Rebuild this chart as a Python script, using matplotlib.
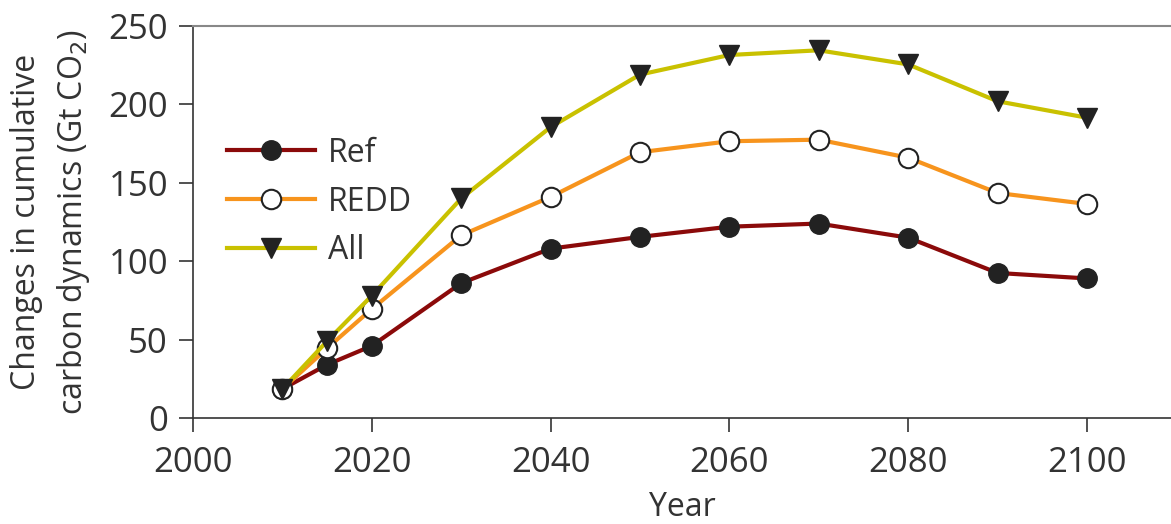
import matplotlib.pyplot as plt

plt.rcParams["font.family"] = ["Open Sans", "DejaVu Sans"]

years = [2010, 2015, 2020, 2030, 2040, 2050, 2060, 2070, 2080, 2090, 2100]
ref = [18.5, 34, 46, 86, 108, 115.5, 122, 124, 115, 92.5, 89]
redd = [18.5, 44.5, 69.5, 116.5, 141, 169.5, 176.5, 177.5, 166, 143.5, 136.5]
all_ = [18.5, 49, 78, 140, 185.5, 219, 231.5, 234.5, 225.5, 202, 191.5]

text_col = "#333333"

fig = plt.figure(figsize=(11.71, 5.24), dpi=100)
ax = fig.add_axes([0.1648, 0.2023, 0.8352, 0.7481])

ax.plot(years, ref, color="#8b0a0a", lw=3, marker="o", ms=14,
        mfc="#222222", mec="#222222", label="Ref", zorder=3)
ax.plot(years, redd, color="#f7941d", lw=3, marker="o", ms=14,
        mfc="white", mec="#222222", mew=1.5, label="REDD", zorder=3)
ax.plot(years, all_, color="#c9c100", lw=3, marker="v", ms=15,
        mfc="#222222", mec="#222222", label="All", zorder=3)

ax.set_xlim(2000, 2109.4)
ax.set_ylim(0, 250)
ax.set_xticks(range(2000, 2101, 20))
ax.set_yticks(range(0, 251, 50))

ax.spines["right"].set_visible(False)
ax.spines["top"].set_color("#888888")
ax.spines["top"].set_linewidth(1.5)
for s in ("left", "bottom"):
    ax.spines[s].set_color("#333333")
    ax.spines[s].set_linewidth(1.2)

ax.tick_params(axis="both", direction="out", length=10, width=1.2,
               color="#333333", labelsize=25, labelcolor=text_col)
ax.tick_params(axis="x", pad=10)
ax.tick_params(axis="y", pad=8)

ax.set_xlabel("Year", fontsize=23, color=text_col, labelpad=8)
ax.set_ylabel("Changes in cumulative\ncarbon dynamics (Gt CO$_2$)",
              fontsize=23, color=text_col, labelpad=12, linespacing=1.45)

leg = ax.legend(loc="upper left", bbox_to_anchor=(0.012, 0.775), frameon=False,
                fontsize=23, handlelength=2.75, handletextpad=0.4,
                labelspacing=0.5, borderaxespad=0.3)
for t in leg.get_texts():
    t.set_color(text_col)

fig.savefig("out.png", dpi=100)
